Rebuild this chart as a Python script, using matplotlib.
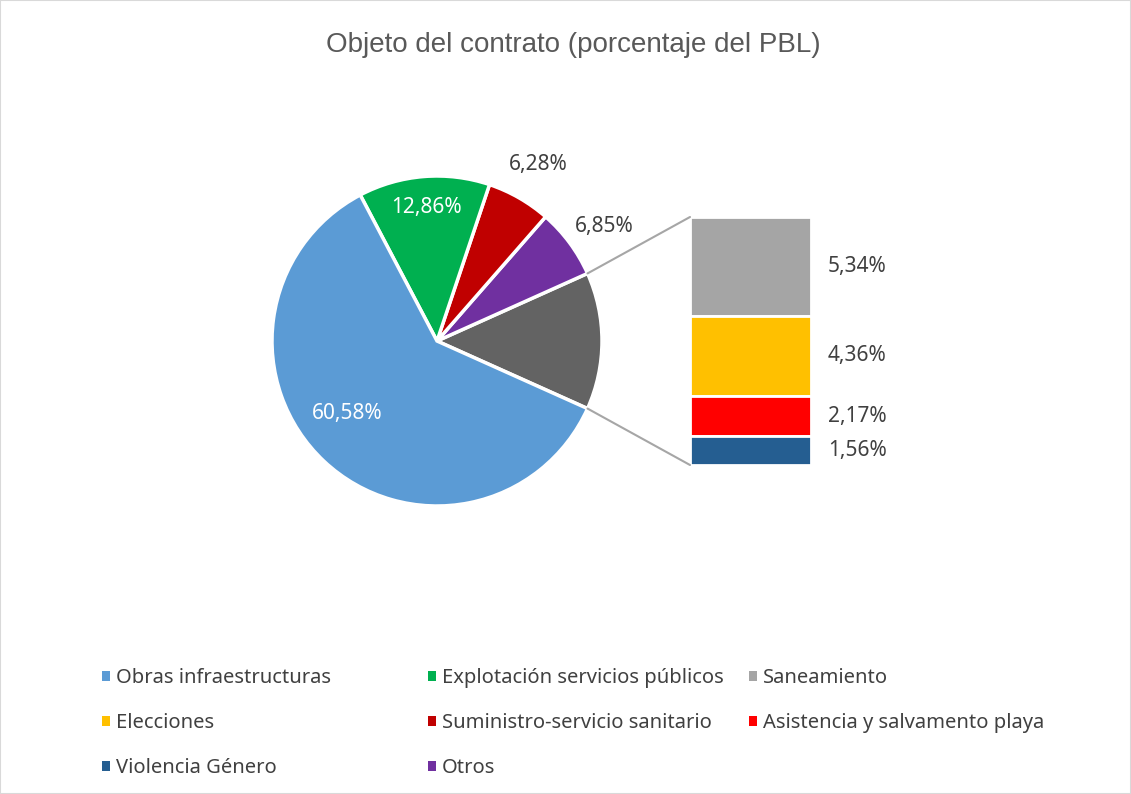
import matplotlib.pyplot as plt
from matplotlib.patches import ConnectionPatch, Rectangle
import numpy as np

# main pie (the "Other" slice is broken out into the bar)
pie_labels = ['Obras infraestructuras', 'Explotación servicios públicos',
              'Suministro-servicio sanitario', 'Otros']
pie_values = [60.58, 12.86, 6.28, 6.85]
pie_colors = ['#5B9BD5', '#00B050', '#C00000', '#7030A0']

# secondary stacked bar, top to bottom
bar_labels = ['Saneamiento', 'Elecciones', 'Asistencia y salvamento playa', 'Violencia Género']
bar_values = [5.34, 4.36, 2.17, 1.56]
bar_colors = ['#A5A5A5', '#FFC000', '#FF0000', '#255E91']
other_color = '#636363'

title = 'Objeto del contrato (porcentaje del PBL)'

W, H = 1131, 794
fig = plt.figure(figsize=(W / 100, H / 100), dpi=100)
fig.patch.set_facecolor('white')
fig.patches.append(Rectangle((0, 0), 1, 1, transform=fig.transFigure, fill=False,
                             edgecolor='#D9D9D9', linewidth=1.5))

lab_font = 'Noto Sans'
txt_col = '#404040'

fig.text(573 / W, 1 - 45 / H, title, ha='center', va='center', fontsize=20,
         color='#595959', family='Liberation Sans')

# pie: drawn counterclockwise starting with the "other" slice centred on the right
other = sum(bar_values)
vals = [other] + pie_values[::-1]
cols = [other_color] + pie_colors[::-1]
cx, cy, r = 437, 341, 165
ax_pie = fig.add_axes([(cx - r) / W, 1 - (cy + r) / H, 2 * r / W, 2 * r / H])
start = -other / 2 * 360 / 100
wedges, _ = ax_pie.pie(vals, colors=cols, startangle=start, counterclock=True,
                       wedgeprops=dict(edgecolor='white', linewidth=2.5))
ax_pie.set_xlim(-1, 1)
ax_pie.set_ylim(-1, 1)
ax_pie.set_aspect('equal')
ax_pie.axis('off')

# label placement (distance, angle shift, colour) for Obras, Explotación, Suministro, Otros
lab_dist = [0.70, 0.81, 1.23, 1.23]
lab_shift = [-8, 0, 0, -2]
lab_col = ['white', 'white', txt_col, txt_col]
for i, v in enumerate(pie_values):
    w = wedges[len(pie_values) - i]
    ang = np.deg2rad((w.theta1 + w.theta2) / 2 + lab_shift[i])
    ax_pie.text(lab_dist[i] * np.cos(ang), lab_dist[i] * np.sin(ang),
                f'{v:.2f}%'.replace('.', ','), ha='center', va='center',
                fontsize=15, color=lab_col[i], family=lab_font, clip_on=False)

# secondary bar
bx0, bx1, by0, by1 = 690, 811, 217, 465
ax_bar = fig.add_axes([bx0 / W, 1 - by1 / H, (bx1 - bx0) / W, (by1 - by0) / H])
bottom = other
bars = []
for v, c in zip(bar_values, bar_colors):
    bottom -= v
    b = ax_bar.bar(0, v, bottom=bottom, width=1, color=c, edgecolor='white', linewidth=2)
    bars.append(b[0])
    ax_bar.text(0.64, bottom + v / 2, f'{v:.2f}%'.replace('.', ','), ha='left',
                va='center', fontsize=15, color=txt_col, family=lab_font, clip_on=False)
ax_bar.set_xlim(-0.5, 0.5)
ax_bar.set_ylim(0, other)
ax_bar.axis('off')

# connector lines from the "other" wedge to the bar
ow = wedges[0]
for th, y in [(ow.theta2, other), (ow.theta1, 0)]:
    a = np.deg2rad(th)
    con = ConnectionPatch(xyA=(np.cos(a), np.sin(a)), coordsA=ax_pie.transData,
                          xyB=(-0.5, y), coordsB=ax_bar.transData,
                          color='#A6A6A6', linewidth=1.5)
    fig.add_artist(con)

# legend: three columns with fixed positions, like Excel
handles = {lab: w for lab, w in zip(pie_labels, wedges[1:][::-1])}
handles.update({lab: b for lab, b in zip(bar_labels, bars)})
legend_cols = [['Obras infraestructuras', 'Elecciones', 'Violencia Género'],
               ['Explotación servicios públicos', 'Suministro-servicio sanitario', 'Otros'],
               ['Saneamiento', 'Asistencia y salvamento playa']]
col_x = [102, 428, 749]
for names, x in zip(legend_cols, col_x):
    leg = fig.legend([handles[k] for k in names], names, loc='upper left',
                     bbox_to_anchor=(x / W, 1 - 668 / H), frameon=False,
                     borderpad=0, borderaxespad=0,
                     prop=dict(family=lab_font, size=14.5), labelcolor=txt_col,
                     handlelength=0.4, handleheight=0.4, handletextpad=0.3,
                     labelspacing=1.25)
    for h in leg.legend_handles:
        h.set_edgecolor('none')

fig.savefig('out.png', dpi=100)
